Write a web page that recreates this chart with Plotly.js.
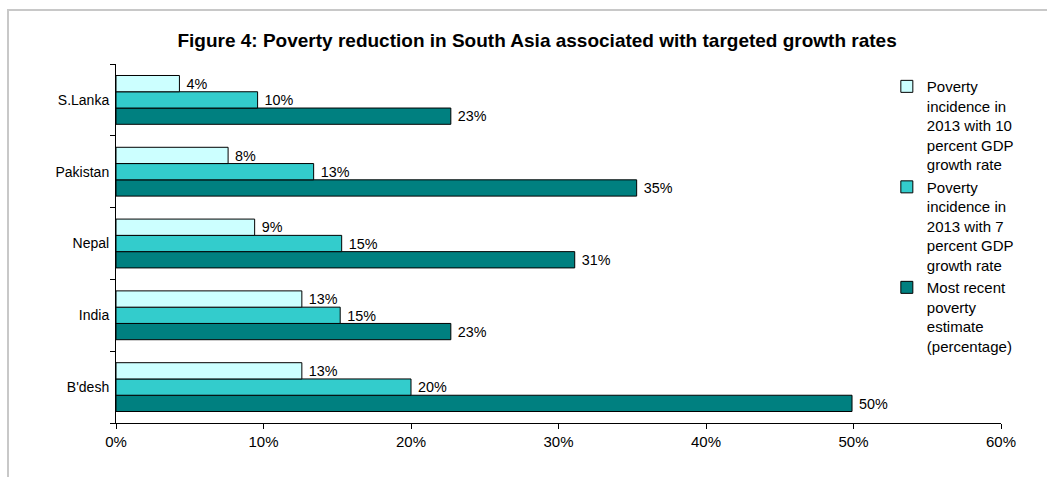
<!DOCTYPE html>
<html>
<head>
<meta charset="utf-8">
<script src="https://cdn.plot.ly/plotly-3.0.1.min.js"></script>
<style>
  html, body { margin: 0; padding: 0; background: #ffffff; }
  #wrap { position: relative; width: 1047px; height: 477px; overflow: hidden; }
  #chart { position: absolute; left: 0; top: 0; width: 1047px; height: 477px; }
  #frame { position: absolute; left: 7px; top: 9px; width: 1100px; height: 600px;
           border-top: 2px solid #c8c8c8; border-left: 2px solid #c8c8c8; pointer-events: none; }
</style>
</head>
<body>
<div id="wrap">
  <div id="chart"></div>
  <div id="frame"></div>
</div>
<script>
// Categories (bottom to top as drawn)
const countries = ["B'desh", "India", "Nepal", "Pakistan", "S.Lanka"];

// Series values (fractions)
const growth10 = [0.126, 0.126, 0.094, 0.076, 0.043];   // Poverty incidence in 2013 with 10% GDP growth
const growth7  = [0.200, 0.152, 0.153, 0.134, 0.096];   // Poverty incidence in 2013 with 7% GDP growth
const recent   = [0.499, 0.227, 0.311, 0.353, 0.227];   // Most recent poverty estimate

const seriesNames = [
  "Poverty<br>incidence in<br>2013 with 10<br>percent GDP<br>growth rate",
  "Poverty<br>incidence in<br>2013 with 7<br>percent GDP<br>growth rate",
  "Most recent<br>poverty<br>estimate<br>(percentage)"
];
const seriesColors = ["#CCFFFF", "#33CCCC", "#008080"];

const FONT = "Arial, 'Liberation Sans', sans-serif";

function barTrace(vals, name, color) {
  return {
    type: 'bar',
    orientation: 'h',
    y: countries,
    x: vals,
    name: name,
    marker: { color: color, line: { color: '#000000', width: 1 } },
    texttemplate: ' %{x:.0%}',
    textposition: 'outside',
    cliponaxis: false,
    textfont: { family: FONT, size: 15, color: '#000000' },
    hoverinfo: 'skip'
  };
}

// Order: bottom bar first so that the light bar sits on top within each group
const data = [
  barTrace(recent, seriesNames[2], seriesColors[2]),
  barTrace(growth7, seriesNames[1], seriesColors[1]),
  barTrace(growth10, seriesNames[0], seriesColors[0])
];

const layout = {
  width: 1047,
  height: 477,
  margin: { l: 116, r: 46, t: 64, b: 54 },
  paper_bgcolor: 'rgba(0,0,0,0)',
  plot_bgcolor: '#ffffff',
  font: { family: FONT, color: '#000000', size: 14 },
  title: {
    text: '<b>Figure 4: Poverty reduction in South Asia associated with targeted growth rates</b>',
    font: { family: FONT, size: 19, color: '#000000' },
    xref: 'container', x: 0.513, xanchor: 'center',
    yref: 'container', y: 0.916, yanchor: 'middle'
  },
  barmode: 'group',
  bargap: 0.32,
  bargroupgap: 0,
  showlegend: true,
  legend: {
    traceorder: 'reversed',
    x: 0.871, xanchor: 'left',
    y: 0.983, yanchor: 'top',
    valign: 'top',
    font: { family: FONT, size: 15, color: '#000000' },
    bgcolor: 'rgba(0,0,0,0)',
    itemwidth: 30,
    tracegroupgap: 0,
    maxheight: 1000
  },
  xaxis: {
    range: [0, 0.6],
    dtick: 0.1,
    tick0: 0,
    tickformat: '.0%',
    showgrid: false,
    zeroline: false,
    showline: true,
    linecolor: '#000000',
    linewidth: 1,
    ticks: 'outside',
    ticklen: 5,
    tickcolor: '#000000',
    tickfont: { family: FONT, size: 15, color: '#000000' },
    fixedrange: true
  },
  yaxis: {
    type: 'category',
    showgrid: false,
    zeroline: false,
    showline: true,
    linecolor: '#000000',
    linewidth: 1,
    ticks: 'outside',
    tickson: 'boundaries',
    ticklen: 5,
    tickcolor: '#000000',
    tickfont: { family: FONT, size: 14, color: '#000000' },
    ticklabelstandoff: 3,
    fixedrange: true
  }
};

Plotly.newPlot('chart', data, layout, { displayModeBar: false, staticPlot: true });
</script>
</body>
</html>
